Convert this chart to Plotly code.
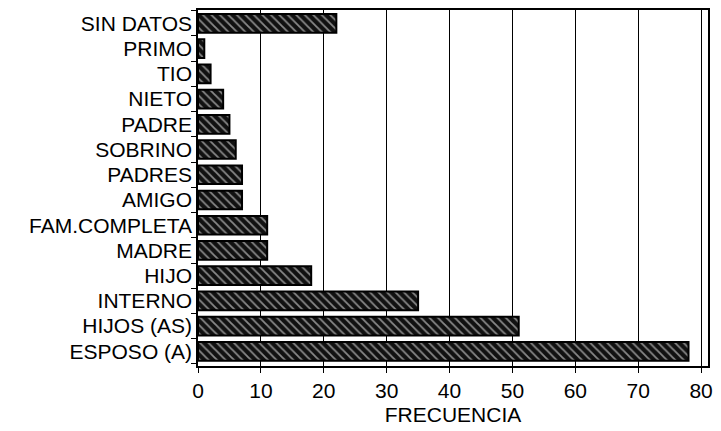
import plotly.graph_objects as go

# categories bottom -> top
CATEGORIES = ["ESPOSO (A)", "HIJOS (AS)", "INTERNO", "HIJO", "MADRE", "FAM.COMPLETA",
              "AMIGO", "PADRES", "SOBRINO", "PADRE", "NIETO", "TIO", "PRIMO", "SIN DATOS"]
FRECUENCIA = [78, 51, 35, 18, 11, 11, 7, 7, 6, 5, 4, 2, 1, 22]
X_TICKS = [0, 10, 20, 30, 40, 50, 60, 70, 80]

FONT = "Liberation Sans, Arial, Helvetica, sans-serif"

fig = go.Figure()
fig.add_trace(go.Bar(
    x=FRECUENCIA, y=CATEGORIES, orientation="h",
    marker=dict(
        color="#111111",
        line=dict(color="black", width=2),
        pattern=dict(shape="\\", fgcolor="white", bgcolor="#111111",
                     size=6, solidity=0.3, fillmode="overlay"),
    ),
    showlegend=False,
))

fig.update_xaxes(
    range=[0, 81.1], tickvals=X_TICKS,
    showgrid=True, gridcolor="black", gridwidth=1,
    showline=True, linecolor="black", linewidth=1.5, mirror=True,
    ticks="outside", ticklen=5, tickcolor="black",
    tickfont=dict(family=FONT, size=21, color="black"),
    title=dict(text="FRECUENCIA", font=dict(family=FONT, size=21, color="black"), standoff=6),
    zeroline=False,
)
fig.update_yaxes(
    categoryorder="array", categoryarray=CATEGORIES,
    tickmode="linear", dtick=1,
    showline=True, linecolor="black", linewidth=1.5, mirror=True,
    ticks="outside", ticklen=5, tickcolor="black", tickson="boundaries",
    tickfont=dict(family=FONT, size=21, color="black"),
    range=[-0.58, 13.53],
)

fig.update_layout(
    width=721, height=431,
    margin=dict(l=198, r=8, t=8, b=59),
    paper_bgcolor="white", plot_bgcolor="white",
    bargap=0.26,
)

fig.write_html("out.html", config={"displayModeBar": False},
               post_script="document.body.style.margin='0';")
